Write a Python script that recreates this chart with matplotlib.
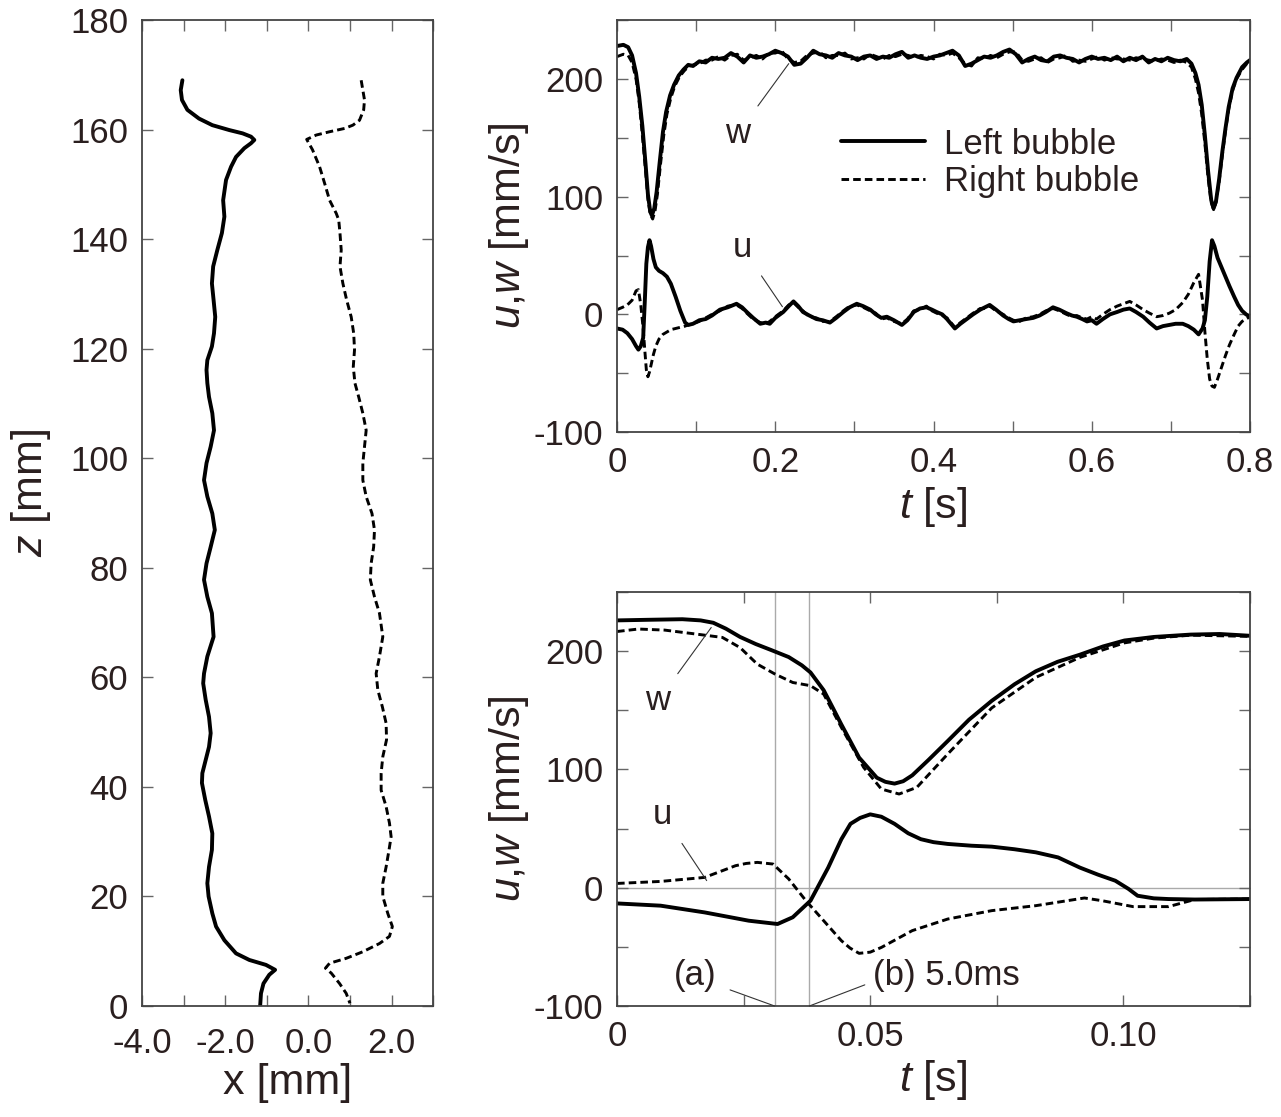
import numpy as np
import matplotlib
matplotlib.use('Agg')
import matplotlib.pyplot as plt
from matplotlib.ticker import FixedLocator, MultipleLocator, FixedFormatter

plt.rcParams['font.family'] = ['Liberation Sans', 'DejaVu Sans']
plt.rcParams['mathtext.fontset'] = 'custom'
plt.rcParams['mathtext.it'] = 'Liberation Sans:italic'
plt.rcParams['mathtext.rm'] = 'Liberation Sans'
plt.rcParams['axes.unicode_minus'] = False

ink = '#2a1f1f'

# --- bubble paths, x [mm] vs z [mm] ---
zL = [169.0, 167.2, 165.4, 163.6, 162.0, 160.8, 159.9, 159.3, 158.7, 158.1, 157.5, 156.6,
      155.0, 153.2, 150.8, 147.1, 144.1, 141.1, 138.0, 135.0, 131.9, 128.9, 125.8, 122.8,
      120.4, 117.9, 116.1, 113.7, 111.2, 108.2, 105.1, 102.1, 99.1, 96.0, 93.0, 89.9,
      86.9, 83.8, 80.8, 77.8, 74.7, 71.7, 67.4, 63.8, 60.7, 58.9, 55.9, 52.8, 49.8, 47.3,
      45.5, 42.5, 40.7, 37.6, 34.6, 31.5, 28.5, 25.4, 22.4, 20.0, 16.9, 14.5, 12.0, 9.6,
      8.4, 7.5, 6.6, 5.7, 4.1, 2.3, 0.0]
xL = [-3.03, -3.07, -3.04, -2.91, -2.63, -2.31, -1.90, -1.58, -1.38, -1.30, -1.38, -1.54,
      -1.74, -1.86, -1.98, -2.05, -2.02, -2.08, -2.19, -2.29, -2.32, -2.28, -2.24, -2.27,
      -2.32, -2.43, -2.45, -2.43, -2.39, -2.31, -2.27, -2.35, -2.45, -2.51, -2.43, -2.31,
      -2.25, -2.35, -2.45, -2.51, -2.43, -2.32, -2.28, -2.43, -2.51, -2.53, -2.47, -2.39,
      -2.35, -2.39, -2.45, -2.55, -2.56, -2.48, -2.39, -2.31, -2.32, -2.39, -2.43, -2.40,
      -2.31, -2.22, -2.02, -1.74, -1.42, -1.02, -0.80, -0.94, -1.08, -1.14, -1.16]
zR = [169.0, 167.2, 165.4, 163.6, 161.7, 160.8, 160.2, 159.6, 159.0, 158.2, 156.3, 153.2,
      150.2, 147.1, 144.7, 143.5, 141.1, 138.0, 135.0, 131.9, 128.9, 125.8, 122.8, 119.8,
      116.7, 113.7, 111.2, 108.2, 105.1, 102.1, 99.1, 96.0, 93.0, 89.9, 86.9, 83.8, 80.8,
      77.8, 74.7, 71.7, 67.4, 63.8, 60.7, 57.7, 54.6, 51.6, 48.6, 45.5, 42.5, 39.4, 36.4,
      33.4, 30.9, 28.5, 25.4, 22.4, 20.0, 16.9, 14.5, 12.7, 11.4, 9.9, 8.7, 7.8, 6.9, 6.0,
      4.1, 2.3, 0.5]
xR = [1.27, 1.31, 1.35, 1.33, 1.23, 1.07, 0.87, 0.51, 0.19, -0.04, 0.10, 0.27,
      0.39, 0.51, 0.67, 0.73, 0.76, 0.79, 0.76, 0.83, 0.92, 1.03, 1.09, 1.11,
      1.08, 1.12, 1.21, 1.31, 1.39, 1.35, 1.31, 1.31, 1.39, 1.53, 1.59, 1.57, 1.51,
      1.49, 1.59, 1.71, 1.79, 1.71, 1.63, 1.67, 1.78, 1.87, 1.88, 1.79, 1.75, 1.75, 1.87,
      1.95, 1.99, 1.94, 1.87, 1.79, 1.79, 1.91, 2.02, 1.95, 1.71, 1.31, 0.91, 0.51, 0.41, 0.55,
      0.75, 0.91, 1.00]

# --- velocities over one period [s], [mm/s] ---
t_wL = [0.000, 0.008, 0.014, 0.019, 0.024, 0.028, 0.032, 0.036, 0.039, 0.042, 0.044, 0.047,
        0.050, 0.054, 0.058, 0.062, 0.067, 0.072, 0.078, 0.084, 0.090, 0.096,
        0.104, 0.112, 0.120, 0.128, 0.136, 0.144, 0.152, 0.160, 0.168, 0.176, 0.184, 0.192,
        0.200, 0.208, 0.216, 0.224, 0.232, 0.240, 0.248, 0.256, 0.264, 0.272, 0.280, 0.288,
        0.296, 0.304, 0.312, 0.320, 0.328, 0.336, 0.344, 0.352, 0.360, 0.368, 0.376, 0.384,
        0.392, 0.400, 0.408, 0.416, 0.424, 0.432, 0.440, 0.448, 0.456, 0.464, 0.472, 0.480,
        0.488, 0.496, 0.504, 0.512, 0.520, 0.528, 0.536, 0.544, 0.552, 0.560, 0.568, 0.576,
        0.584, 0.592, 0.600, 0.608, 0.616, 0.624, 0.632, 0.640, 0.648, 0.656, 0.664, 0.672,
        0.680, 0.688, 0.696, 0.704, 0.712, 0.720,
        0.726, 0.731, 0.735, 0.739, 0.743, 0.747, 0.751, 0.754, 0.757, 0.761, 0.765, 0.769,
        0.773, 0.778, 0.783, 0.790, 0.796, 0.800]
wL = [228, 229, 227, 220, 205, 185, 160, 128, 102, 87, 84, 90,
      104, 130, 155, 172, 186, 195, 203, 208, 212, 211,
      215, 214, 218, 217, 218, 222, 219, 214, 220, 218, 219, 221,
      224, 222, 219, 212, 213, 218, 224, 221, 220, 218, 222, 220,
      219, 216, 219, 220, 217, 219, 218, 221, 223, 218, 220, 218,
      217, 219, 220, 222, 224, 220, 211, 213, 216, 219, 218, 220,
      223, 225, 221, 214, 217, 219, 216, 215, 219, 220, 218, 217,
      214, 217, 219, 217, 218, 216, 219, 215, 218, 216, 219, 214,
      217, 215, 218, 216, 215, 217,
      213, 205, 195, 178, 152, 122, 97, 90, 96, 115, 138, 158,
      176, 192, 201, 210, 214, 216]
t_wR = [0.000, 0.008, 0.014, 0.019, 0.024, 0.028, 0.032, 0.036, 0.039, 0.042, 0.045, 0.048,
        0.051, 0.055, 0.059, 0.063, 0.068, 0.073, 0.079, 0.085, 0.091, 0.097,
        0.104, 0.112, 0.120, 0.128, 0.136, 0.144, 0.152, 0.160, 0.168, 0.176, 0.184, 0.192,
        0.200, 0.208, 0.216, 0.224, 0.232, 0.240, 0.248, 0.256, 0.264, 0.272, 0.280, 0.288,
        0.296, 0.304, 0.312, 0.320, 0.328, 0.336, 0.344, 0.352, 0.360, 0.368, 0.376, 0.384,
        0.392, 0.400, 0.408, 0.416, 0.424, 0.432, 0.440, 0.448, 0.456, 0.464, 0.472, 0.480,
        0.488, 0.496, 0.504, 0.512, 0.520, 0.528, 0.536, 0.544, 0.552, 0.560, 0.568, 0.576,
        0.584, 0.592, 0.600, 0.608, 0.616, 0.624, 0.632, 0.640, 0.648, 0.656, 0.664, 0.672,
        0.680, 0.688, 0.696, 0.704, 0.712, 0.720,
        0.726, 0.731, 0.735, 0.739, 0.743, 0.747, 0.751, 0.754, 0.757, 0.761, 0.765, 0.769,
        0.773, 0.778, 0.783, 0.790, 0.796, 0.800]
wR = [219, 221, 220, 214, 200, 180, 152, 122, 98, 85, 81, 88,
      102, 128, 152, 170, 184, 194, 202, 207, 211, 212,
      213, 216, 216, 219, 216, 220, 221, 216, 218, 220, 217, 222,
      222, 224, 217, 214, 215, 220, 222, 223, 218, 220, 220, 222,
      217, 218, 217, 221, 219, 217, 220, 219, 221, 220, 218, 220,
      219, 217, 221, 220, 222, 218, 213, 211, 218, 217, 220, 218,
      221, 223, 223, 216, 215, 217, 218, 214, 217, 218, 220, 215,
      216, 215, 217, 219, 216, 218, 217, 217, 216, 218, 217, 216,
      215, 217, 216, 214, 216, 214,
      210, 200, 188, 170, 145, 116, 95, 89, 95, 113, 135, 156,
      174, 190, 200, 208, 213, 215]

t_u = [0.000, 0.007, 0.013, 0.019, 0.024, 0.027, 0.030, 0.033, 0.035, 0.037, 0.039, 0.041,
       0.043, 0.046, 0.049, 0.053, 0.058, 0.063, 0.068, 0.074, 0.080, 0.086, 0.090, 0.096,
       0.104, 0.112, 0.120, 0.130, 0.140, 0.151, 0.158, 0.164, 0.172, 0.181, 0.188, 0.193,
       0.200, 0.210, 0.217, 0.223, 0.229, 0.235, 0.243, 0.252, 0.260, 0.269, 0.277, 0.286,
       0.294, 0.303, 0.311, 0.320, 0.327, 0.334, 0.341, 0.350, 0.360, 0.367, 0.375, 0.383,
       0.391, 0.398, 0.404, 0.411, 0.417, 0.422, 0.427, 0.434, 0.442, 0.450, 0.459, 0.465,
       0.471, 0.479, 0.488, 0.495, 0.501, 0.509, 0.517, 0.526, 0.534, 0.542, 0.551, 0.559,
       0.568, 0.575, 0.581, 0.588, 0.594, 0.600, 0.606, 0.614, 0.623, 0.632, 0.640, 0.648,
       0.656, 0.665, 0.673, 0.682, 0.690, 0.698, 0.706, 0.715, 0.722, 0.729, 0.735,
       0.740, 0.743, 0.746, 0.749, 0.752, 0.755, 0.759, 0.764, 0.769, 0.774, 0.780, 0.785,
       0.790, 0.795, 0.800]
uL = [-12, -13, -16, -21, -27, -30, -27, -20, 10, 43, 57, 63,
      58, 47, 40, 37, 35, 32, 26, 15, 3, -7, -9, -8,
      -5, -4, -1, 4, 6, 9, 6, 2, -3, -8, -7, -8,
      -3, 2, 7, 11, 7, 2, -1, -4, -5, -7, -3, 2,
      6, 9, 7, 4, 0, -3, -2, -5, -9, -5, 2, 5,
      6, 4, 2, 0, -4, -8, -12, -8, -4, 0, 4, 6,
      8, 4, -1, -4, -6, -5, -4, -3, -1, 2, 6, 4,
      1, -1, -2, -4, -6, -5, -8, -4, 0, 2, 4, 5,
      2, -2, -7, -12, -10, -9, -8, -8, -10, -13, -17,
      -12, -5, 15, 45, 63, 58, 48, 40, 32, 24, 15, 8,
      3, 0, -2]
uR = [4, 6, 8, 12, 20, 21, 8, -12, -30, -47, -53, -49,
      -43, -34, -27, -21, -17, -15, -13, -12, -11, -10, -9, -8,
      -6, -3, 0, 3, 7, 8, 5, 1, -4, -7, -8, -6,
      -2, 3, 8, 10, 6, 3, -2, -3, -6, -6, -2, 3,
      7, 8, 6, 3, 1, -4, -3, -6, -8, -4, 3, 4,
      7, 3, 1, -1, -3, -7, -11, -7, -3, 1, 5, 5,
      7, 3, 0, -3, -5, -6, -3, -2, 0, 3, 5, 3,
      0, -2, -1, -3, -4, -2, -4, 0, 4, 7, 9, 11,
      8, 4, 1, -2, -1, 1, 4, 10, 17, 27, 34,
      12, -15, -38, -55, -61, -62, -55, -45, -35, -26, -17, -10,
      -6, -4, -2]

# --- close-up of the approach, t [s] ---
t_wL2 = [0.0, 0.006, 0.0129, 0.0165, 0.0190, 0.0215, 0.0243, 0.0274, 0.0304, 0.0339, 0.0365,
         0.0382, 0.0408, 0.0425, 0.0443, 0.0478, 0.0513, 0.0530, 0.0548, 0.0565, 0.0583,
         0.0615, 0.0653, 0.0695, 0.0740, 0.0785, 0.0827, 0.0870, 0.0914, 0.0960, 0.1002,
         0.1060, 0.1133, 0.1190, 0.125]
wL2 = [226, 226.5, 227, 226, 224, 219, 212, 206, 201, 195, 188,
       182, 167, 153, 138, 110, 93, 89.5, 88, 90, 95,
       108, 124, 142, 158, 172, 183, 191, 197, 204, 209,
       212, 214, 214.5, 213]
t_wR2 = [0.0, 0.0042, 0.0094, 0.0155, 0.0208, 0.0243, 0.0277, 0.0312, 0.0347, 0.0382,
         0.0408, 0.0443, 0.0487, 0.0522, 0.0557, 0.0592, 0.0653, 0.0740, 0.0827, 0.0914,
         0.1002, 0.1060, 0.1133, 0.125]
wR2 = [216.6, 218.7, 217.8, 214.5, 211.6, 203, 189, 180.6, 173.5, 170.8,
       163.7, 135.5, 101.7, 83.4, 79.2, 84.8, 113, 152, 177.8, 194.7,
       207, 211, 213.5, 212.5]
t_uL2 = [0.0, 0.0086, 0.0173, 0.0260, 0.0317, 0.0347, 0.0382, 0.0417, 0.0443, 0.0461,
         0.0480, 0.0500, 0.0522, 0.0548, 0.0575, 0.0600, 0.0625, 0.0653, 0.0700, 0.0740,
         0.0785, 0.0827, 0.0871, 0.0914, 0.0950, 0.0984, 0.1010, 0.1028, 0.1060, 0.1089,
         0.1141, 0.125]
uL2 = [-13.3, -15.2, -20.9, -27.9, -30.7, -25, -11, 17, 41, 54,
       59, 62, 60, 54, 46, 41, 38.5, 37, 35.5, 34.7,
       32.5, 29.9, 25.6, 17, 11, 5.9, -1, -6.8, -9, -9.6,
       -10, -9.6]
t_uR2 = [0.0, 0.0086, 0.0173, 0.0234, 0.0255, 0.0277, 0.0308, 0.0339, 0.0373, 0.0408,
         0.0443, 0.0460, 0.0478, 0.0500, 0.0522, 0.0583, 0.0653, 0.0740, 0.0827, 0.0923,
         0.0958, 0.1019, 0.1089, 0.1141, 0.125]
uR2 = [3.6, 5.3, 8.7, 18.6, 20.5, 21.4, 20, 7.4, -11, -27.9,
       -44.8, -51, -55.5, -54.5, -50.5, -36.3, -26.5, -19.4, -15.2, -8.7,
       -11, -16, -16, -10, -9.6]
t_marks = [0.0311, 0.0380]

fig = plt.figure(figsize=(12.81, 11.17), dpi=100)
ax1 = fig.add_axes([0.1109, 0.0994, 0.2272, 0.8827])
ax2 = fig.add_axes([0.4817, 0.6132, 0.4941, 0.3688])
ax3 = fig.add_axes([0.4817, 0.0994, 0.4941, 0.3706])

solid = dict(color='black', lw=2.8, solid_capstyle='round', solid_joinstyle='round')
dashed = dict(color='black', lw=2.1, dashes=(2.6, 1.4))
lab = dict(fontsize=31, color=ink)
note = dict(fontsize=25, color=ink)
thin = dict(arrowstyle='-', color='#333333', lw=0.8, shrinkB=0)


def style(ax):
    for s in ax.spines.values():
        s.set_color('#444444')
        s.set_linewidth(1.3)
    ax.tick_params(which='both', direction='in', top=True, right=True, length=8,
                   width=1.0, color='#666666', labelsize=25, labelcolor=ink, pad=10)


ax1.plot(xL, zL, **solid)
ax1.plot(xR, zR, **dashed)
ax1.set_xlim(-4, 3)
ax1.set_ylim(0, 180)
ax1.xaxis.set_major_locator(FixedLocator([-4, -2, 0, 2]))
ax1.xaxis.set_major_formatter(FixedFormatter(['-4.0', '-2.0', '0.0', '2.0']))
ax1.xaxis.set_minor_locator(MultipleLocator(1))
ax1.yaxis.set_major_locator(MultipleLocator(20))
style(ax1)
ax1.tick_params(axis='x', pad=15)
ax1.set_xlabel('x [mm]', labelpad=2, **lab)
ax1.set_ylabel(r'$z$ [mm]', **lab)
ax1.yaxis.set_label_coords(-0.305, 0.52)

ax2.plot(t_wL, wL, label='Left bubble', **solid)
ax2.plot(t_wR, wR, label='Right bubble', **dashed)
ax2.plot(t_u, uL, **solid)
ax2.plot(t_u, uR, **dashed)
ax2.set_xlim(0, 0.8)
ax2.set_ylim(-100, 250)
ax2.xaxis.set_major_locator(FixedLocator([0, 0.2, 0.4, 0.6, 0.8]))
ax2.xaxis.set_major_formatter(FixedFormatter(['0', '0.2', '0.4', '0.6', '0.8']))
ax2.xaxis.set_minor_locator(MultipleLocator(0.1))
ax2.yaxis.set_major_locator(FixedLocator([-100, 0, 100, 200]))
ax2.yaxis.set_minor_locator(MultipleLocator(50))
style(ax2)
ax2.set_xlabel(r'$t$ [s]', labelpad=4, **lab)
ax2.set_ylabel(r'$u$,$w$ [mm/s]', labelpad=2, **lab)
ax2.legend(loc='upper left', bbox_to_anchor=(0.305, 0.815), frameon=False, fontsize=25,
           handlelength=2.4, handletextpad=0.55, labelspacing=0.12, labelcolor=ink)
ax2.annotate('w', xy=(0.217, 213), xytext=(0.153, 154), ha='center', va='center',
             arrowprops=dict(shrinkA=7, **thin), **note)
ax2.annotate('u', xy=(0.209, 6.5), xytext=(0.158, 57), ha='center', va='center',
             arrowprops=dict(shrinkA=9, **thin), **note)

for tm in t_marks:
    ax3.axvline(tm, color='#aaaaaa', lw=1.0, zorder=0)
ax3.axhline(0, color='#aaaaaa', lw=1.0, zorder=0)
ax3.plot(t_wL2, wL2, **solid)
ax3.plot(t_wR2, wR2, **dashed)
ax3.plot(t_uL2, uL2, **solid)
ax3.plot(t_uR2, uR2, **dashed)
ax3.set_xlim(0, 0.125)
ax3.set_ylim(-100, 250)
ax3.xaxis.set_major_locator(FixedLocator([0, 0.05, 0.10]))
ax3.xaxis.set_major_formatter(FixedFormatter(['0', '0.05', '0.10']))
ax3.xaxis.set_minor_locator(MultipleLocator(0.025))
ax3.yaxis.set_major_locator(FixedLocator([-100, 0, 100, 200]))
ax3.yaxis.set_minor_locator(MultipleLocator(50))
style(ax3)
ax3.set_xlabel(r'$t$ [s]', labelpad=4, **lab)
ax3.set_ylabel(r'$u$,$w$ [mm/s]', labelpad=2, **lab)
ax3.annotate('w', xy=(0.0186, 220), xytext=(0.0081, 158), ha='center', va='center',
             arrowprops=dict(shrinkA=7, **thin), **note)
ax3.annotate('u', xy=(0.0177, 6), xytext=(0.009, 62), ha='center', va='center',
             arrowprops=dict(shrinkA=9, **thin), **note)
ax3.annotate('(a)', xy=(t_marks[0], -100), xytext=(0.0155, -74), ha='center', va='center',
             arrowprops=dict(shrinkA=8, relpos=(1, 0.2), **thin), **note)
ax3.annotate('(b) 5.0ms', xy=(t_marks[1], -100), xytext=(0.0505, -74), ha='left',
             va='center', arrowprops=dict(shrinkA=4, relpos=(0, 0.3), **thin), **note)

fig.savefig('out.png', dpi=100)
